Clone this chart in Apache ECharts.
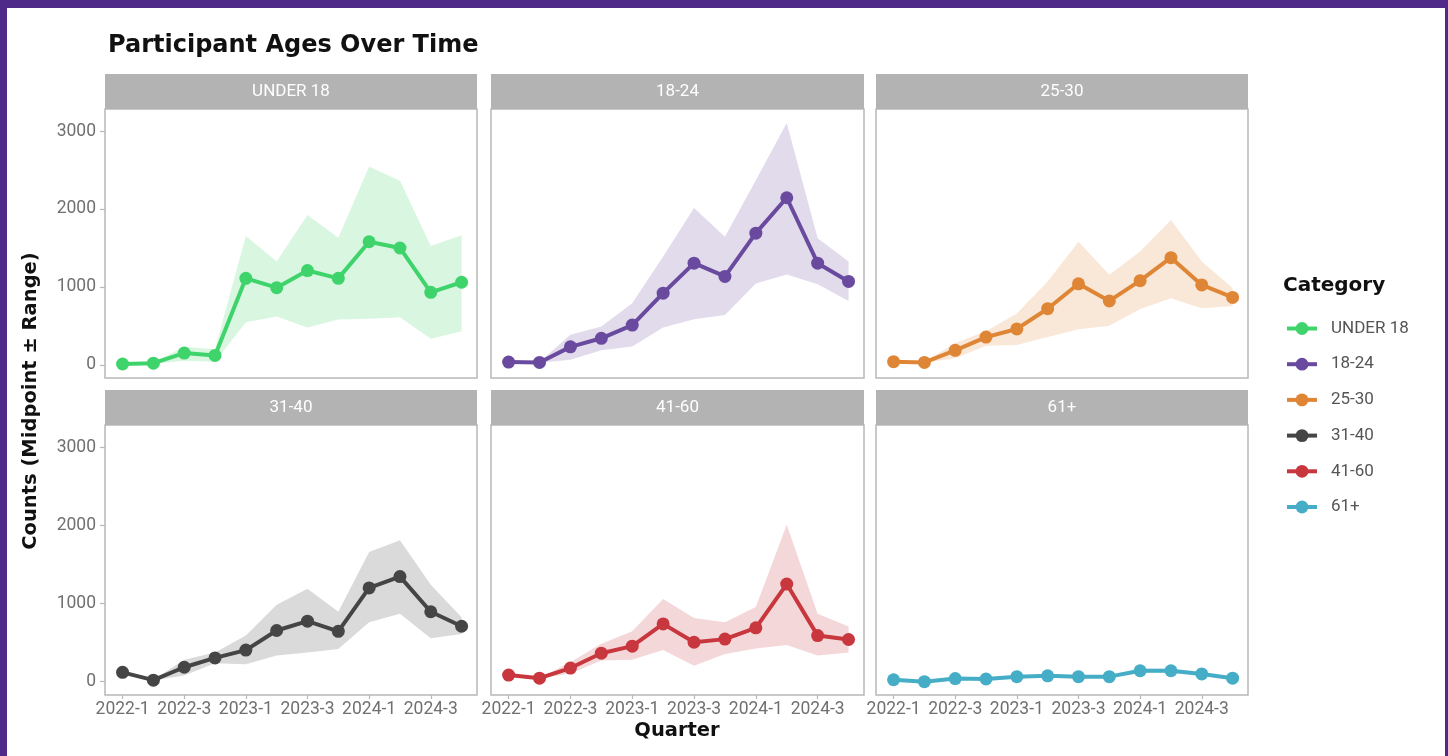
<!DOCTYPE html>
<html><head><meta charset="utf-8">
<script src="https://cdn.jsdelivr.net/npm/echarts@6/dist/echarts.min.js"></script>
<style>html,body{margin:0;padding:0;background:#fff}#c{width:1448px;height:756px}</style>
</head><body><div id="c"></div><script>
// ---- data ----
const quarters = ['2022-1','2022-2','2022-3','2022-4','2023-1','2023-2','2023-3','2023-4','2024-1','2024-2','2024-3','2024-4'];
const categories = ['UNDER 18','18-24','25-30','31-40','41-60','61+'];
const yTicks = [0,1000,2000,3000];
const xTickQuarters = ['2022-1','2022-3','2023-1','2023-3','2024-1','2024-3'];

const midUnder18  = [10,20,150,120,1110,990,1210,1110,1580,1500,930,1060];
const lowUnder18  = [0,10,50,40,545,620,480,580,590,610,335,430];
const highUnder18 = [20,30,230,200,1655,1325,1925,1630,2545,2365,1525,1665];

const mid18to24  = [35,30,230,340,510,920,1305,1135,1690,2145,1305,1070];
const low18to24  = [30,25,65,185,235,480,585,640,1045,1160,1035,820];
const high18to24 = [40,35,385,490,790,1390,2015,1645,2370,3105,1625,1325];

const mid25to30  = [40,30,185,355,460,720,1040,820,1080,1375,1025,865];
const low25to30  = [35,25,85,245,255,355,455,500,715,855,725,755];
const high25to30 = [45,35,280,430,660,1070,1580,1155,1455,1860,1325,985];

const mid31to40  = [120,20,185,305,405,655,775,645,1200,1345,895,710];
const low31to40  = [110,15,80,235,225,335,375,420,760,870,555,610];
const high31to40 = [130,25,280,375,590,985,1190,895,1660,1810,1240,825];

const mid41to60  = [85,45,175,365,455,740,505,545,690,1250,590,540];
const low41to60  = [80,40,105,270,280,405,205,355,425,470,335,375];
const high41to60 = [90,50,250,485,645,1060,815,760,955,2010,870,705];

const mid61plus  = [25,0,40,35,65,75,65,65,140,140,100,45];
const low61plus  = [15,0,30,25,50,55,50,50,110,110,80,35];
const high61plus = [35,10,50,45,80,95,80,80,170,170,120,55];

const colors = ['#3fd46b','#6a4a9e','#df8636','#454545','#c8373d','#45aec6'];
// ---- layout ----
const mids = [midUnder18, mid18to24, mid25to30, mid31to40, mid41to60, mid61plus];
const lows = [lowUnder18, low18to24, low25to30, low31to40, low41to60, low61plus];
const highs = [highUnder18, high18to24, high25to30, high31to40, high41to60, high61plus];
const colLeft = [105, 491, 876];
const colW = [372, 373, 372];
const rowTop = [109, 425];
const rowH = [269, 270];
const stripH = 35;
const font = 'Roboto, "Noto Sans", sans-serif';
const boldFont = '"DejaVu Sans", sans-serif';

const grids = [], xAxes = [], yAxes = [], series = [], graphics = [];
for (let i = 0; i < 6; i++) {
  const r = Math.floor(i / 3), c = i % 3;
  grids.push({left: colLeft[c], top: rowTop[r], width: colW[c], height: rowH[r],
    show: true, borderColor: '#b8b8b8', borderWidth: 1.5, backgroundColor: '#fff'});
  const bottom = r === 1, left = c === 0;
  const xTickIdx = xTickQuarters.map(q => quarters.indexOf(q));
  xAxes.push({gridIndex: i, type: 'value', min: -0.57, max: 11.5,
    axisLine: {show: false, onZero: false}, splitLine: {show: false},
    axisTick: {show: bottom, customValues: xTickIdx, length: 4, lineStyle: {color: '#b8b8b8', width: 1.2}},
    axisLabel: {show: bottom, customValues: xTickIdx, formatter: v => quarters[v], color: '#707070',
      fontSize: 17.5, margin: 6, fontFamily: font}});
  yAxes.push({gridIndex: i, type: 'value', min: -170, max: 3285,
    axisLine: {show: false, onZero: false}, splitLine: {show: false},
    axisTick: {show: left, customValues: yTicks, length: 5, lineStyle: {color: '#b8b8b8', width: 1.2}},
    axisLabel: {show: left, customValues: yTicks, formatter: v => String(v), color: '#707070',
      fontSize: 17.5, margin: 9, fontFamily: font}});
  const low = lows[i], high = highs[i], col = colors[i];
  series.push({type: 'custom', xAxisIndex: i, yAxisIndex: i, silent: true, z: 1,
    data: [[0, 0]],
    renderItem: function (params, api) {
      const pts = [];
      for (let k = 0; k < high.length; k++) pts.push(api.coord([k, high[k]]));
      for (let k = low.length - 1; k >= 0; k--) pts.push(api.coord([k, low[k]]));
      return {type: 'polygon', shape: {points: pts}, style: {fill: col, opacity: 0.2}};
    }});
  series.push({type: 'line', name: categories[i], xAxisIndex: i, yAxisIndex: i, z: 3,
    data: mids[i].map((v, k) => [k, v]),
    symbol: 'circle', symbolSize: 13, showSymbol: true,
    lineStyle: {color: col, width: 4}, itemStyle: {color: col}});
  // facet strip
  graphics.push({type: 'rect', shape: {x: colLeft[c], y: rowTop[r] - stripH, width: colW[c], height: stripH},
    style: {fill: '#b3b3b3'}, silent: true});
  graphics.push({type: 'text', x: colLeft[c] + colW[c] / 2, y: rowTop[r] - stripH / 2,
    style: {text: categories[i], fill: '#ffffff', fontSize: 17, fontFamily: font, align: 'center', verticalAlign: 'middle'}});
}
// frame
graphics.push({type: 'rect', shape: {x: 0, y: 0, width: 1448, height: 8}, style: {fill: '#502a88'}, z: 100});
graphics.push({type: 'rect', shape: {x: 0, y: 0, width: 7, height: 756}, style: {fill: '#502a88'}, z: 100});
graphics.push({type: 'rect', shape: {x: 1445, y: 0, width: 3, height: 756}, style: {fill: '#502a88'}, z: 100});
// axis titles and legend title
graphics.push({type: 'text', x: 31, y: 401, rotation: Math.PI / 2,
  style: {text: 'Counts (Midpoint ± Range)', fill: '#111', fontSize: 19.5, fontWeight: 'bold', fontFamily: boldFont, align: 'center', verticalAlign: 'middle'}});
graphics.push({type: 'text', x: 677, y: 731,
  style: {text: 'Quarter', fill: '#111', fontSize: 19.5, fontWeight: 'bold', fontFamily: boldFont, align: 'center', verticalAlign: 'middle'}});
graphics.push({type: 'text', x: 1283, y: 286,
  style: {text: 'Category', fill: '#111', fontSize: 20, fontWeight: 'bold', fontFamily: boldFont, align: 'left', verticalAlign: 'middle'}});

const chart = echarts.init(document.getElementById('c'), null, {renderer: 'canvas'});
chart.setOption({
  animation: false,
  backgroundColor: '#fff',
  title: {text: 'Participant Ages Over Time', left: 103, top: 29,
    textStyle: {fontSize: 24, fontWeight: 'bold', color: '#111', fontFamily: boldFont}},
  legend: {orient: 'vertical', left: 1280, top: 315, itemWidth: 30, itemHeight: 16, itemGap: 18.7,
    lineStyle: {width: 4}, itemStyle: {},
    data: categories, textStyle: {fontSize: 17, lineHeight: 16, color: '#555', fontFamily: font, padding: [0, 0, 0, 9]}},
  grid: grids, xAxis: xAxes, yAxis: yAxes, series: series, graphic: graphics
});
</script></body></html>
